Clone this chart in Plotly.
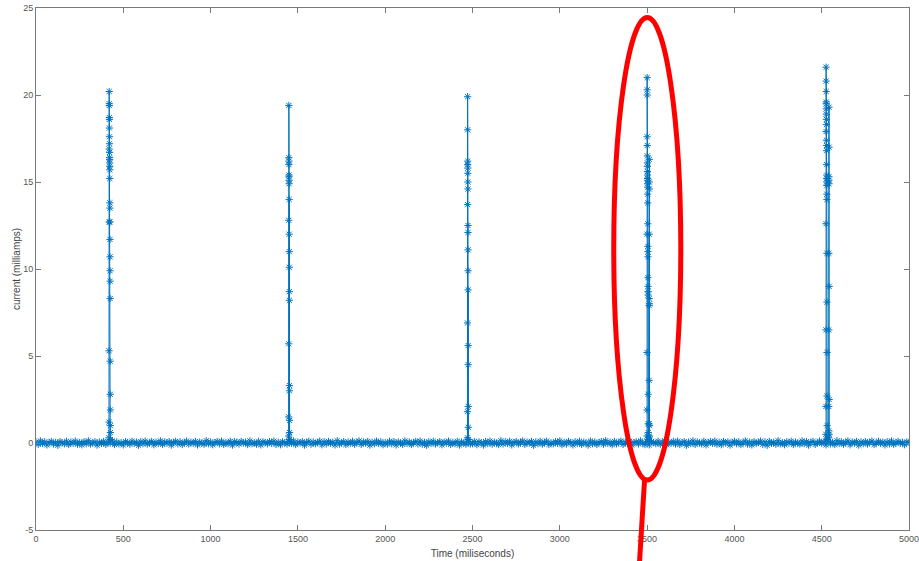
import numpy as np
import pandas as pd
import plotly.graph_objects as go

# ---- data ----
baseline_step_ms = 12.5
baseline_values = [
    0.05, -0.08, 0.12, -0.03, 0.07, -0.11, 0.02, 0.09, -0.06, 0.04, -0.13, 0.08, 0.01, -0.05, 0.10, -0.09, 0.06, -0.02, 0.11, -0.07,
    0.03, -0.10, 0.08, -0.04, 0.13, -0.06, 0.00, 0.07, -0.12, 0.05, -0.03, 0.09, -0.08, 0.04, -0.01, 0.12, -0.09, 0.06, -0.05, 0.02,
    -0.11, 0.08, 0.03, -0.07, 0.10, -0.02, 0.05, -0.13, 0.07, -0.04, 0.11, -0.06, 0.01, 0.09, -0.10, 0.04, -0.03, 0.12, -0.08, 0.06,
    -0.01, 0.08, -0.12, 0.03, 0.10, -0.05, 0.07, -0.09, 0.02, 0.11, -0.06, 0.04, -0.02, 0.09, -0.11, 0.05, 0.00, -0.07, 0.13, -0.04,
    0.06, -0.10, 0.03, 0.08, -0.05, 0.11, -0.08, 0.02, -0.03, 0.10, -0.12, 0.07, 0.04, -0.06, 0.09, -0.01, 0.05, -0.09, 0.12, -0.04,
    0.02, -0.07, 0.10, -0.11, 0.06, 0.03, -0.05, 0.08, -0.02, 0.11, -0.08, 0.04, -0.10, 0.07, 0.01, -0.06, 0.09, -0.03, 0.12, -0.09,
    0.05, -0.01, 0.08, -0.12, 0.03, 0.10, -0.07, 0.06, -0.04, 0.02, 0.11, -0.10, 0.07, -0.05, 0.09, -0.02, 0.04, -0.11, 0.13, -0.06,
    0.01, 0.08, -0.09, 0.05, -0.03, 0.10, -0.07, 0.03, 0.12, -0.08, 0.06, -0.01, 0.09, -0.12, 0.04, -0.05, 0.11, -0.03, 0.07, -0.10,
    0.02, -0.06, 0.10, -0.04, 0.08, -0.11, 0.05, 0.01, -0.08, 0.12, -0.02, 0.06, -0.09, 0.03, 0.09, -0.05, 0.11, -0.07, 0.04, -0.13,
    0.07, -0.03, 0.10, -0.06, 0.02, 0.08, -0.10, 0.05, -0.01, 0.11, -0.08, 0.03, -0.04, 0.09, -0.12, 0.06, 0.00, -0.07, 0.10, -0.05,
    -0.04, 0.09, -0.10, 0.06, 0.01, -0.12, 0.08, -0.03, 0.11, -0.07, 0.04, 0.00, -0.09, 0.13, -0.05, 0.07, -0.02, 0.10, -0.11, 0.03,
    0.08, -0.06, 0.02, 0.12, -0.08, 0.05, -0.01, 0.09, -0.13, 0.06, -0.04, 0.10, -0.07, 0.03, 0.11, -0.09, 0.01, -0.05, 0.08, -0.02,
    0.12, -0.10, 0.04, -0.06, 0.09, 0.02, -0.11, 0.07, -0.03, 0.10, -0.08, 0.05, 0.00, -0.12, 0.11, -0.04, 0.06, -0.09, 0.03, 0.08,
    -0.07, 0.13, -0.02, 0.04, -0.10, 0.09, -0.05, 0.01, 0.11, -0.08, 0.06, -0.03, 0.10, -0.12, 0.02, 0.07, -0.06, 0.12, -0.01, -0.09,
    0.05, -0.11, 0.08, 0.03, -0.04, 0.10, -0.07, 0.01, 0.13, -0.10, 0.04, -0.02, 0.09, -0.06, 0.11, -0.09, 0.02, 0.07, -0.13, 0.05,
    -0.03, 0.12, -0.08, 0.06, 0.00, -0.05, 0.10, -0.11, 0.03, 0.08, -0.02, 0.11, -0.07, 0.04, -0.10, 0.09, -0.01, 0.06, -0.12, 0.02,
    0.10, -0.04, 0.07, -0.09, 0.01, 0.12, -0.06, 0.05, -0.11, 0.08, -0.03, 0.03, 0.11, -0.08, 0.06, -0.13, 0.09, -0.02, 0.04, -0.07,
    0.13, -0.05, 0.02, -0.10, 0.07, -0.01, 0.10, -0.09, 0.05, 0.00, -0.06, 0.12, -0.04, 0.08, -0.12, 0.03, 0.09, -0.08, 0.01, 0.11,
    -0.02, 0.06, -0.11, 0.10, -0.05, 0.04, -0.09, 0.13, -0.03, 0.07, -0.07, 0.02, 0.12, -0.10, 0.05, -0.01, 0.09, -0.12, 0.06, -0.04,
    0.08, -0.06, 0.03, 0.11, -0.09, 0.00, 0.10, -0.03, 0.05, -0.11, 0.07, -0.05, 0.12, -0.08, 0.02, 0.09, -0.02, 0.04, -0.10, 0.06,
]

sample_step_ms = 0.25
spike1_start = 418
spike1_values = [0.3, 1.2, 5.3, 12.7, 16.9, 20.2, 19.5, 19.4, 18.7, 18.6, 18.1, 17.6, 17.2, 16.7, 16.4, 16.3, 16.1, 15.9,
                 15.7, 15.2, 13.8, 13.5, 12.7, 11.7, 10.7, 9.9, 9.3, 8.3, 4.7, 2.8, 1.9, 1.0, 0.6, 0.2]
spike2_start = 1447
spike2_values = [0.4, 1.5, 5.7, 12.8, 16.4, 19.4, 16.2, 16.0, 15.4, 15.3, 15.1, 14.9, 14.0, 12.0, 11.0, 10.1, 8.7, 8.2,
                 3.3, 3.0, 1.3, 0.6, 0.2]
spike3_start = 2471
spike3_values = [0.3, 1.8, 6.9, 13.7, 19.9, 18.0, 16.2, 16.0, 15.8, 15.5, 15.0, 14.6, 12.5, 12.1, 11.1, 9.9, 8.8,
                 5.6, 4.5, 2.1, 0.9, 0.2]
spike4a_start = 3499
spike4a_values = [0.4, 1.9, 5.2, 12.0, 17.6, 21.0, 20.3, 20.0, 17.1, 16.5, 16.1, 15.9, 15.6, 15.4, 15.2, 15.1, 14.9,
                  14.7, 14.3, 13.8, 12.6, 11.3, 11.0, 10.7, 9.5, 9.0, 8.7, 8.5, 2.8, 1.1, 0.6, 0.2]
spike4b_start = 3511
spike4b_values = [0.3, 1.1, 3.6, 7.9, 8.3, 12.0, 15.0, 16.3, 14.6, 8.0, 1.0, 0.4]
spike5a_start = 4524
spike5a_values = [0.5, 2.1, 6.5, 12.6, 17.9, 21.6, 20.8, 20.2, 19.6, 19.5, 19.2, 18.9, 18.6, 18.3, 17.4, 17.1, 16.8,
                  16.0, 15.4, 15.2, 15.0, 14.8, 14.3, 14.0, 10.9, 8.1, 5.2, 2.7, 1.0, 0.2]
spike5b_start = 4540
spike5b_values = [0.3, 0.7, 2.1, 6.5, 10.9, 15.1, 15.3, 19.3, 17.0, 14.9, 9.0, 2.5, 0.5]

x_ticks = [0, 500, 1000, 1500, 2000, 2500, 3000, 3500, 4000, 4500, 5000]
y_ticks = [-5, 0, 5, 10, 15, 20, 25]
x_label = "Time (miliseconds)"
y_label = "current (milliamps)"

# ---- assemble one sampled series ----
base_t = np.arange(len(baseline_values)) * baseline_step_ms
frames = [pd.DataFrame({"t": base_t, "v": baseline_values})]
for start, vals in [(spike1_start, spike1_values), (spike2_start, spike2_values), (spike3_start, spike3_values),
                    (spike4a_start, spike4a_values), (spike4b_start, spike4b_values),
                    (spike5a_start, spike5a_values), (spike5b_start, spike5b_values)]:
    frames.append(pd.DataFrame({"t": start + np.arange(len(vals)) * sample_step_ms, "v": vals}))
df = pd.concat(frames).sort_values("t", kind="stable")
df = pd.concat([df, pd.DataFrame({"t": [5000], "v": [0.03]})])

blue = "#0072BD"
fig = go.Figure()
fig.add_trace(go.Scatter(
    x=df["t"], y=df["v"], mode="lines+markers",
    line=dict(color=blue, width=1),
    marker=dict(symbol="asterisk-open", size=6, color=blue, line=dict(color=blue, width=1)),
    showlegend=False, hoverinfo="skip", cliponaxis=True,
))

axis_common = dict(showline=True, linecolor="#7a7a7a", linewidth=1, mirror="ticks",
                   ticks="inside", ticklen=5, tickcolor="#7a7a7a", showgrid=False, zeroline=False,
                   automargin=False, ticklabeloverflow="allow",
                   tickfont=dict(family="Liberation Sans, Arial, sans-serif", size=9, color="#555555"))
fig.update_xaxes(range=[0, 5000], tickvals=x_ticks, ticktext=[str(v) for v in x_ticks],
                 title=dict(text=x_label, font=dict(family="Liberation Sans, Arial", size=10, color="#444"), standoff=7),
                 **axis_common)
fig.update_yaxes(range=[-5, 25], tickvals=y_ticks, ticktext=[str(v) for v in y_ticks],
                 title=dict(text=y_label, font=dict(family="Liberation Sans, Arial", size=10, color="#444"), standoff=0),
                 **axis_common)

# red highlight ellipse and pointer line
fig.add_shape(type="circle", xref="x", yref="y", x0=3309, x1=3693, y0=-2.13, y1=24.45,
              line=dict(color="#ff0000", width=5))
fig.add_shape(type="line", xref="paper", yref="paper", x0=0.697, y0=0.094, x1=0.691, y1=-0.07,
              line=dict(color="#ff0000", width=5))

fig.update_layout(width=919, height=561, margin=dict(l=36, r=10, t=8, b=31),
                  paper_bgcolor="white", plot_bgcolor="white")
fig.write_html("out.html", config={"displayModeBar": False},
               post_script="document.body.style.margin='0';document.body.style.overflow='hidden';")
